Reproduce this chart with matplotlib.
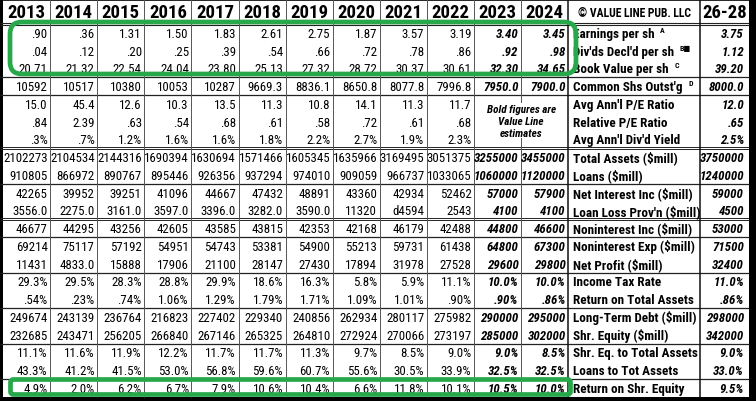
#!/usr/bin/env python3
"""Value Line style annual statistics table (2013-2024, 26-28 projection)."""

import matplotlib
matplotlib.use('Agg')
import matplotlib.pyplot as plt
import matplotlib.font_manager as fm
from matplotlib.patches import FancyBboxPatch, Rectangle

# ---- data -----------------------------------------------------------------
years = ['2013', '2014', '2015', '2016', '2017', '2018', '2019', '2020',
         '2021', '2022', '2023', '2024']
proj_header = '26-28'
publisher = '\u00a9 VALUE LINE PUB. LLC'
estimate_note = 'Bold figures are\nValue Line\nestimates'

row_labels = ['Earnings per sh', "Div'ds Decl'd per sh", 'Book Value per sh',
              "Common Shs Outst'g", "Avg Ann'l P/E Ratio", 'Relative P/E Ratio',
              "Avg Ann'l Div'd Yield", 'Total Assets ($mill)', 'Loans ($mill)',
              'Net Interest Inc ($mill)', "Loan Loss Prov'n ($mill)",
              'Noninterest Inc ($mill)', 'Noninterest Exp ($mill)',
              'Net Profit ($mill)', 'Income Tax Rate', 'Return on Total Assets',
              'Long-Term Debt ($mill)', 'Shr. Equity ($mill)',
              'Shr. Eq. to Total Assets', 'Loans to Tot Assets',
              'Return on Shr. Equity']
row_notes = ['A', 'B\u25a0', 'C', 'D'] + [''] * 17

# each list: 2013 .. 2024, then 26-28
earnings = ['.90', '.36', '1.31', '1.50', '1.83', '2.61', '2.75', '1.87',
            '3.57', '3.19', '3.40', '3.45', '3.75']
dividends = ['.04', '.12', '.20', '.25', '.39', '.54', '.66', '.72',
             '.78', '.86', '.92', '.98', '1.12']
book_value = ['20.71', '21.32', '22.54', '24.04', '23.80', '25.13', '27.32',
              '28.72', '30.37', '30.61', '32.30', '34.65', '39.20']
shares = ['10592', '10517', '10380', '10053', '10287', '9669.3', '8836.1',
          '8650.8', '8077.8', '7996.8', '7950.0', '7900.0', '8000.0']
pe_ratio = ['15.0', '45.4', '12.6', '10.3', '13.5', '11.3', '10.8', '14.1',
            '11.3', '11.7', '', '', '12.0']
rel_pe = ['.84', '2.39', '.63', '.54', '.68', '.61', '.58', '.72',
          '.61', '.68', '', '', '.65']
div_yield = ['.3%', '.7%', '1.2%', '1.6%', '1.6%', '1.8%', '2.2%', '2.7%',
             '1.9%', '2.3%', '', '', '2.5%']
total_assets = ['2102273', '2104534', '2144316', '1690394', '1630694',
                '1571466', '1605345', '1635966', '3169495', '3051375',
                '3255000', '3455000', '3750000']
loans = ['910805', '866972', '890767', '895446', '926356', '937294', '974010',
         '909059', '966737', '1033065', '1060000', '1120000', '1240000']
net_int_inc = ['42265', '39952', '39251', '41096', '44667', '47432', '48891',
               '43360', '42934', '52462', '57000', '57900', '59000']
loan_loss = ['3556.0', '2275.0', '3161.0', '3597.0', '3396.0', '3282.0',
             '3590.0', '11320', 'd4594', '2543', '4100', '4100', '4500']
nonint_inc = ['46677', '44295', '43256', '42605', '43585', '43815', '42353',
              '42168', '46179', '42488', '44800', '46600', '53000']
nonint_exp = ['69214', '75117', '57192', '54951', '54743', '53381', '54900',
              '55213', '59731', '61438', '64800', '67300', '71500']
net_profit = ['11431', '4833.0', '15888', '17906', '21100', '28147', '27430',
              '17894', '31978', '27528', '29600', '29800', '32400']
tax_rate = ['29.3%', '29.5%', '28.3%', '28.8%', '29.9%', '18.6%', '16.3%',
            '5.8%', '5.9%', '11.1%', '10.0%', '10.0%', '11.0%']
roa = ['.54%', '.23%', '.74%', '1.06%', '1.29%', '1.79%', '1.71%', '1.09%',
       '1.01%', '.90%', '.90%', '.86%', '.86%']
lt_debt = ['249674', '243139', '236764', '216823', '227402', '229340',
           '240856', '262934', '280117', '275982', '290000', '295000', '298000']
shr_equity = ['232685', '243471', '256205', '266840', '267146', '265325',
              '264810', '272924', '270066', '273197', '285000', '302000',
              '342000']
eq_to_assets = ['11.1%', '11.6%', '11.9%', '12.2%', '11.7%', '11.7%', '11.3%',
                '9.7%', '8.5%', '9.0%', '9.0%', '8.5%', '9.0%']
loans_to_assets = ['43.3%', '41.2%', '41.5%', '53.0%', '56.8%', '59.6%',
                   '60.7%', '55.6%', '30.5%', '33.9%', '32.5%', '32.5%',
                   '33.0%']
roe = ['4.9%', '2.0%', '6.2%', '6.7%', '7.9%', '10.6%', '10.4%', '6.6%',
       '11.8%', '10.1%', '10.5%', '10.0%', '9.5%']

rows = [earnings, dividends, book_value, shares, pe_ratio, rel_pe, div_yield,
        total_assets, loans, net_int_inc, loan_loss, nonint_inc, nonint_exp,
        net_profit, tax_rate, roa, lt_debt, shr_equity, eq_to_assets,
        loans_to_assets, roe]
group_ends = [3, 4, 7, 9, 11, 12, 14, 16, 18, 20]  # rule drawn after these rows
double_rules = [7, 11]
estimate_cols = [10, 11]                            # 2023, 2024 in bold italic

# ---- layout (pixel units) --------------------------------------------------
W, H = 756, 402
x0, col_w = 3.0, 47.1
lab_x0 = x0 + col_w * len(years)
lab_x1, x_end = 700.0, 749.0
head_h, row_h = 25.0, 17.75
green = '#27a84a'

# prefer a narrow/condensed face like the printed original, if one exists
cond_names = set()
for f in fm.fontManager.ttflist:
    if 'condensed' in str(f.stretch) or 'Narrow' in f.name or 'Condensed' in f.name:
        cond_names.add(f.name)
family = 'Liberation Sans'
for cand in ['Liberation Sans Narrow', 'Roboto Condensed', 'Open Sans Condensed',
             'Noto Sans', 'Roboto', 'Open Sans', 'DejaVu Sans']:
    if cand in cond_names:
        family = cand
        plt.rcParams['font.stretch'] = 'condensed'
        break
plt.rcParams['font.family'] = [family, 'DejaVu Sans']

fig = plt.figure(figsize=(W / 100, H / 100), dpi=100, facecolor='white')
ax = fig.add_axes([0, 0, 1, 1])
ax.set_xlim(0, W)
ax.set_ylim(H, 0)
ax.set_axis_off()
renderer = fig.canvas.get_renderer()


def fit_size(s, target_px, base, **kw):
    t = ax.text(0, 0, s, fontsize=base, **kw)
    w = t.get_window_extent(renderer).width
    t.remove()
    return min(base, base * target_px / w)


def row_y(i):
    return head_h + (i + 0.5) * row_h


fs_val = min(fit_size('2102273', 45, 10.5),
             fit_size('3255000', 45, 10.5, fontweight='bold', fontstyle='italic'))
fs_lab = min(fit_size("Loan Loss Prov'n ($mill)", 126, 11, fontweight='bold'),
             fit_size("Avg Ann'l Div'd Yield", 115, 11, fontweight='bold'))
fs_year = fit_size('2013', 39, 13.5, fontweight='bold')
fs_pub = fit_size(publisher, 114, 10, fontweight='bold')
fs_note = fit_size('Bold figures are', 80, 8, fontweight='bold', fontstyle='italic')

bottom = head_h + row_h * len(rows)

# header
for j, yr in enumerate(years):
    ax.text(x0 + (j + 0.5) * col_w, head_h / 2 + 1, yr, ha='center',
            va='center', fontsize=fs_year, fontweight='bold')
ax.text((lab_x0 + lab_x1) / 2, head_h / 2 + 1, publisher, ha='center',
        va='center', fontsize=fs_pub, fontweight='bold')
ax.text((lab_x1 + x_end) / 2, head_h / 2 + 1, proj_header, ha='center',
        va='center', fontsize=fs_year, fontweight='bold')

# body
for i, vals in enumerate(rows):
    y = row_y(i) + 0.5
    for j, v in enumerate(vals[:-1]):
        est = j in estimate_cols
        ax.text(x0 + (j + 1) * col_w - 2.5, y, v, ha='right', va='center',
                fontsize=fs_val,
                fontweight='bold' if est else 'normal',
                fontstyle='italic' if est else 'normal')
    ax.text(x_end - 5, y, vals[-1], ha='right', va='center',
            fontsize=fs_val, fontweight='bold', fontstyle='italic')
    lab = ax.text(lab_x0 + 5, y, row_labels[i], ha='left', va='center',
                  fontsize=fs_lab, fontweight='bold')
    if row_notes[i]:
        ax.annotate(row_notes[i], xy=(1, 0.8), xycoords=lab,
                    xytext=(4, 0), textcoords='offset points',
                    ha='left', va='center', fontsize=fs_lab * 0.6,
                    fontweight='bold')

ax.text(x0 + (estimate_cols[0] + 1) * col_w, row_y(5) - 1, estimate_note,
        ha='center', va='center', fontsize=fs_note, fontweight='bold',
        fontstyle='italic', linespacing=1.25, zorder=3,
        bbox=dict(boxstyle='square,pad=0.05', fc='white', ec='none'))

# rules
ax.hlines(1, 0, W, color='black', lw=1.2)
ax.hlines([head_h - 1.5, head_h + 0.5], 0, x_end, color='#222222', lw=0.8)
for g in group_ends:
    y = head_h + g * row_h
    if g in double_rules:
        ax.hlines([y - 1, y + 1], 0, x_end, color='#222222', lw=0.7)
    else:
        ax.hlines(y, 0, x_end, color='#222222', lw=0.9)
col_edges = [x0 + j * col_w for j in range(1, len(years))]
ax.vlines(col_edges, 0, bottom, color='#555555', lw=0.7)
ax.vlines([lab_x0, lab_x1], 0, bottom, color='#111111', lw=1.1)

# scan frame
ax.add_patch(Rectangle((0, 0), 2.5, H, color='black', lw=0))
ax.add_patch(Rectangle((x_end, 0), W - x_end, H, color='black', lw=0))
ax.add_patch(Rectangle((0, bottom), W, H - bottom, color='black', lw=0))

# green highlight boxes
ax.add_patch(FancyBboxPatch((13, 26), 560, 46,
                            boxstyle='round,pad=3,rounding_size=12',
                            fill=False, ec=green, lw=3.4, zorder=5))
ax.add_patch(FancyBboxPatch((12, 382), 557, 12,
                            boxstyle='round,pad=1.5,rounding_size=3',
                            fill=False, ec=green, lw=3.4, zorder=5))

fig.savefig('out.png', dpi=100, facecolor='white')
